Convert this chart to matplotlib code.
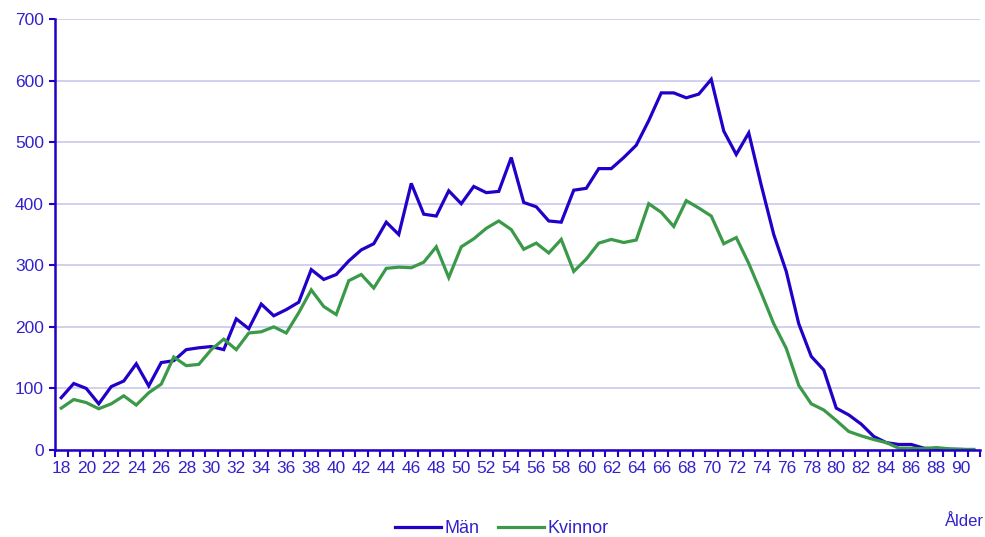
import numpy as np
import matplotlib
matplotlib.use("Agg")
import matplotlib.pyplot as plt

plt.rcParams['font.family'] = ['Liberation Sans', 'DejaVu Sans']

# Age categories 18..91
ages = list(range(18, 92))

man = [85, 108, 100, 75, 103, 112, 140, 104, 142, 145,
       163, 166, 168, 163, 213, 197, 237, 218, 228, 240,
       293, 277, 285, 307, 325, 335, 370, 350, 433, 383,
       380, 421, 400, 428, 418, 420, 475, 402, 395, 372,
       370, 422, 425, 457, 457, 475, 495, 535, 580, 580,
       572, 578, 602, 518, 480, 515, 430, 350, 290, 205,
       152, 130, 68, 57, 42, 22, 12, 9, 9, 3,
       2, 1, 1, 0]

kvinnor = [68, 82, 77, 67, 75, 88, 73, 93, 107, 151,
           137, 139, 163, 180, 163, 190, 192, 200, 190, 223,
           260, 233, 220, 275, 285, 263, 295, 297, 296, 305,
           330, 280, 330, 343, 360, 372, 358, 326, 336, 320,
           342, 290, 310, 336, 342, 337, 341, 400, 386, 363,
           405, 393, 380, 335, 345, 303, 255, 205, 165, 105,
           75, 65, 48, 30, 23, 17, 12, 3, 3, 2,
           4, 2, 1, 1]

blue = '#2200c8'
green = '#3a9a48'
text_col = '#3322cc'

fig = plt.figure(figsize=(9.85, 5.37), dpi=100)
ax = fig.add_axes([55 / 985, 87 / 537, 925 / 985, 431 / 537])

x = np.arange(len(ages))
ax.plot(x, man, color=blue, lw=2.3, label='Män', solid_joinstyle='miter')
ax.plot(x, kvinnor, color=green, lw=2.3, label='Kvinnor', solid_joinstyle='miter')

ax.set_xlim(-0.5, len(ages) - 0.5)
ax.set_ylim(0, 700)
ax.set_yticks(range(0, 701, 100))
ax.grid(axis='y', color='#c8c8ee', lw=1.2)
ax.set_axisbelow(True)

lab_pos = [i for i, a in enumerate(ages) if a % 2 == 0]
ax.set_xticks(lab_pos)
ax.set_xticklabels([str(ages[i]) for i in lab_pos])
ax.tick_params(axis='x', which='major', length=0, pad=8)
ax.set_xticks(np.arange(-0.5, len(ages)), minor=True)
ax.tick_params(axis='x', which='minor', length=5, width=1.5, color=blue, direction='out')
ax.tick_params(axis='y', length=4, width=1.5, color=blue, direction='out', pad=4)
ax.tick_params(labelsize=12.5, labelcolor=text_col)

for s in ['top', 'right']:
    ax.spines[s].set_visible(False)
for s in ['left', 'bottom']:
    ax.spines[s].set_color(blue)
    ax.spines[s].set_linewidth(1.8)

fig.legend(loc='lower center', bbox_to_anchor=(0.5096, -0.03), ncol=2, frameon=False,
           fontsize=13, labelcolor=text_col, handlelength=2.55, handletextpad=0.17,
           columnspacing=1.05)
fig.text(964 / 985, 1 - 522 / 537, 'Ålder', ha='center', va='center',
         fontsize=12, color=text_col)

fig.savefig('out.png', dpi=100)
